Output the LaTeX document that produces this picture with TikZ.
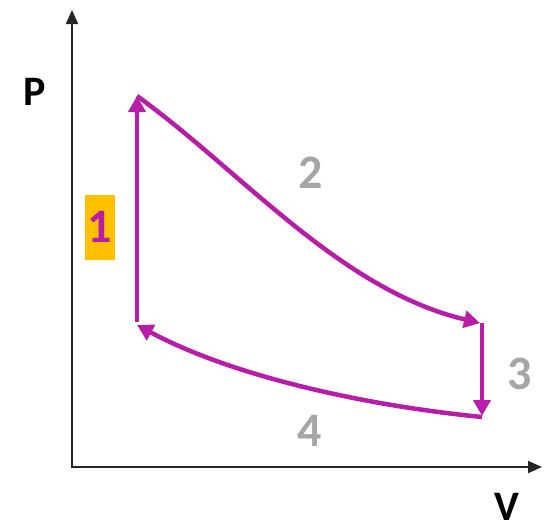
\documentclass[tikz,border=0pt]{standalone}
\usepackage{fontspec}
\setmainfont{Carlito}
\usetikzlibrary{arrows.meta}
\definecolor{cyc}{RGB}{184,28,168}
\definecolor{lbl}{RGB}{166,166,166}
\definecolor{hl}{RGB}{255,192,0}
\tikzset{
  axis/.style={line width=2pt,draw=black!85,-{Triangle[length=14pt,width=12pt]}},
  proc/.style={line width=4.5pt,draw=cyc,-{Triangle[length=16pt,width=17pt]}},
  axlbl/.style={font=\fontsize{42}{42}\selectfont\bfseries,text=black,inner sep=0pt},
  num/.style={font=\fontsize{48}{48}\selectfont\bfseries,text=lbl,inner sep=0pt},
}
\begin{document}
\begin{tikzpicture}[x=1pt,y=-1pt]
\useasboundingbox (0,0) rectangle (544,531);
\coordinate (o) at (72,467);
\coordinate (ytip) at (72,10);
\coordinate (xtip) at (542,467);
\draw[axis,line cap=rect] (o) -- (ytip);
\draw[axis] (o) -- (xtip);
\node[axlbl] (P) at (35,92) {P};
\node[axlbl] (V) at (507,507) {V};
\coordinate (a) at (137,322);
\coordinate (b) at (137,96);
\coordinate (c) at (480,323);
\coordinate (c2) at (482,323);
\coordinate (d) at (482,416);
\coordinate (e) at (482,417);
\coordinate (f) at (137,325);
\draw[proc] (a) -- (b);
\draw[proc] (b) .. controls (240,170) and (340,290) .. (c);
\draw[proc] (c2) -- (d);
\draw[proc] (e) .. controls (360,405) and (230,375) .. (f);
\node[num,fill=hl,text=cyc,minimum width=30pt,minimum height=65pt] (n1) at (100,227) {1};
\node[num] (n2) at (311,173) {2};
\node[num] (n3) at (520,374) {3};
\node[num] (n4) at (310,431) {4};
\end{tikzpicture}
\end{document}
